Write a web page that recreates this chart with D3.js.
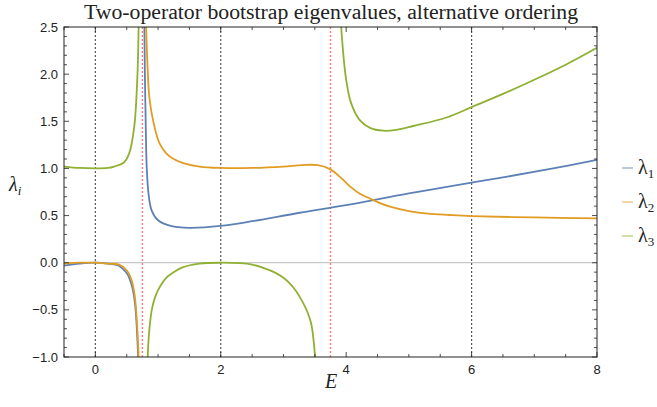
<!DOCTYPE html>
<html><head><meta charset="utf-8">
<script src="https://cdn.jsdelivr.net/npm/d3@7"></script>
<style>body{margin:0;background:#fff}</style>
</head><body>
<svg id="c" width="657" height="407"></svg>
<script>
// ---- data ----
const title = "Two-operator bootstrap eigenvalues, alternative ordering";
const xTicks = [0, 2, 4, 6, 8];
const yTicks = [-1.0, -0.5, 0.0, 0.5, 1.0, 1.5, 2.0, 2.5];
const blackMarkers = [0, 2, 6];
const redMarkers = [0.75, 3.75];
const seriesNames = ["λ1", "λ2", "λ3"];

const l1aE = [-0.5, -0.25, 0, 0.2, 0.38, 0.5, 0.58, 0.63, 0.66, 0.685, 0.71];
const l1aV = [-0.03, -0.01, 0, -0.01, -0.035, -0.11, -0.24, -0.42, -0.68, -1.05, -1.6];
const l1bE = [0.775, 0.79, 0.80, 0.82, 0.85, 0.9, 1.0, 1.2, 1.5, 2.0, 2.5, 3.26, 4.0, 5.0, 5.65, 6.5, 7.3, 8.0];
const l1bV = [3.0, 2.0, 1.6, 1.0, 0.72, 0.55, 0.45, 0.39, 0.37, 0.39, 0.44, 0.53, 0.61, 0.735, 0.81, 0.905, 1.0, 1.09];

const l2aE = [-0.5, -0.25, 0, 0.2, 0.38, 0.5, 0.58, 0.63, 0.66, 0.69, 0.71];
const l2aV = [-0.01, 0, 0, -0.01, -0.02, -0.08, -0.19, -0.36, -0.6, -1.0, -1.5];
const l2bE = [0.79, 0.81, 0.835, 0.86, 0.92, 1.02, 1.13, 1.25, 1.39, 1.66, 2.0, 2.5, 3.0, 3.3, 3.55, 3.75, 3.9, 4.06, 4.2, 4.38, 4.55, 4.7, 5.02, 5.3, 5.65, 6.0, 7.0, 8.0];
const l2bV = [3.0, 2.5, 2.04, 1.76, 1.51, 1.27, 1.16, 1.1, 1.06, 1.02, 1.005, 1.005, 1.02, 1.035, 1.035, 0.99, 0.91, 0.81, 0.74, 0.68, 0.63, 0.595, 0.545, 0.52, 0.506, 0.495, 0.48, 0.47];

const l3aE = [-0.5, -0.25, 0, 0.2, 0.3, 0.45, 0.54, 0.62, 0.67, 0.69, 0.71];
const l3aV = [1.02, 1.005, 1.0, 1.005, 1.02, 1.06, 1.16, 1.44, 1.97, 2.5, 4.5];
const l3bE = [0.81, 0.835, 0.86, 0.9, 0.95, 1.0, 1.13, 1.25, 1.39, 1.66, 2.0, 2.3, 2.5, 2.7, 2.85, 3.0, 3.1, 3.2, 3.3, 3.38, 3.44, 3.48, 3.51, 3.54];
const l3bV = [-2.2, -1.0, -0.72, -0.5, -0.37, -0.29, -0.16, -0.1, -0.05, -0.01, 0, -0.005, -0.02, -0.06, -0.1, -0.16, -0.22, -0.3, -0.41, -0.52, -0.64, -0.82, -1.05, -1.4];
const l3cE = [3.87, 3.92, 4.0, 4.08, 4.22, 4.38, 4.59, 4.8, 5.07, 5.6, 6.0, 6.5, 7.0, 7.5, 8.0];
const l3cV = [3.2, 2.5, 1.94, 1.69, 1.51, 1.43, 1.40, 1.41, 1.45, 1.54, 1.65, 1.79, 1.94, 2.1, 2.28];

const colors = ["#5E81B5", "#E19C24", "#8FB032"];
const segments = [
  {s: 0, E: l1aE, V: l1aV}, {s: 0, E: l1bE, V: l1bV},
  {s: 2, E: l3aE, V: l3aV}, {s: 2, E: l3bE, V: l3bV}, {s: 2, E: l3cE, V: l3cV},
  {s: 1, E: l2aE, V: l2aV}, {s: 1, E: l2bE, V: l2bV}
];

// ---- layout ----
const L = 64, R = 597, T = 27, B = 357;
const svg = d3.select("#c");
const x = d3.scaleLinear().domain([-0.5, 8]).range([L, R]);
const y = d3.scaleLinear().domain([-1, 2.5]).range([B, T]);

svg.append("defs").append("clipPath").attr("id", "clip")
  .append("rect").attr("x", L).attr("y", T).attr("width", R - L).attr("height", B - T);

// zero line
svg.append("line").attr("x1", L).attr("x2", R).attr("y1", y(0)).attr("y2", y(0))
  .attr("stroke", "#c8c8c8").attr("stroke-width", 1.2);

// vertical markers
blackMarkers.forEach(e => svg.append("line").attr("x1", x(e)).attr("x2", x(e)).attr("y1", T).attr("y2", B)
  .attr("stroke", "#555").attr("stroke-width", 1.2).attr("stroke-dasharray", "2,2"));
redMarkers.forEach(e => svg.append("line").attr("x1", x(e)).attr("x2", x(e)).attr("y1", T).attr("y2", B)
  .attr("stroke", "#f27c7c").attr("stroke-width", 1.4).attr("stroke-dasharray", "2,2"));

// curves
const line = d3.line().x(d => x(d[0])).y(d => y(d[1])).curve(d3.curveCatmullRom.alpha(0.5));
const g = svg.append("g").attr("clip-path", "url(#clip)");
segments.forEach(seg => {
  g.append("path").attr("d", line(seg.E.map((e, i) => [e, seg.V[i]])))
    .attr("fill", "none").attr("stroke", colors[seg.s]).attr("stroke-width", 1.8);
});

// frame
svg.append("rect").attr("x", L).attr("y", T).attr("width", R - L).attr("height", B - T)
  .attr("fill", "none").attr("stroke", "#222").attr("stroke-width", 1);

// ticks
const xMinor = d3.range(-0.5, 8.001, 0.5);
const yMinor = d3.range(-1, 2.5001, 0.1);
const tk = svg.append("g").attr("stroke", "#222").attr("stroke-width", 0.8);
xMinor.forEach(v => {
  const major = Math.abs(v / 2 - Math.round(v / 2)) < 1e-6;
  const len = major ? 5 : 3;
  tk.append("line").attr("x1", x(v)).attr("x2", x(v)).attr("y1", B).attr("y2", B - len);
  tk.append("line").attr("x1", x(v)).attr("x2", x(v)).attr("y1", T).attr("y2", T + len);
});
yMinor.forEach(v => {
  const major = Math.abs(v * 2 - Math.round(v * 2)) < 1e-6;
  const len = major ? 5 : 3;
  tk.append("line").attr("x1", L).attr("x2", L + len).attr("y1", y(v)).attr("y2", y(v));
  tk.append("line").attr("x1", R).attr("x2", R - len).attr("y1", y(v)).attr("y2", y(v));
});

// tick labels
const fmtY = d3.format(".1f");
yTicks.forEach(v => svg.append("text").attr("x", L - 6).attr("y", y(v) + 4.5)
  .attr("text-anchor", "end").attr("font-family", "Liberation Sans, Arial, sans-serif")
  .attr("font-size", 13).attr("fill", "#222").text(fmtY(v).replace("-", "\u2212")));
xTicks.forEach(v => svg.append("text").attr("x", x(v)).attr("y", B + 17)
  .attr("text-anchor", "middle").attr("font-family", "Liberation Sans, Arial, sans-serif")
  .attr("font-size", 13).attr("fill", "#222").text(v));

// axis labels
svg.append("text").attr("x", 331).attr("y", 388).attr("text-anchor", "middle")
  .attr("font-family", "Liberation Serif, serif").attr("font-style", "italic")
  .attr("font-size", 20).attr("fill", "#222").text("E");
const yl = svg.append("text").attr("x", 9).attr("y", 191)
  .attr("font-family", "Liberation Serif, serif").attr("font-style", "italic")
  .attr("font-size", 20).attr("fill", "#222");
yl.append("tspan").text("λ");
yl.append("tspan").attr("font-size", 13).attr("dy", 4).text("i");

// title
svg.append("text").attr("x", 331).attr("y", 19).attr("text-anchor", "middle")
  .attr("font-family", "Liberation Serif, serif").attr("font-size", 20).attr("fill", "#222")
  .attr("textLength", 494).attr("lengthAdjust", "spacingAndGlyphs")
  .text(title);

// legend
const legY = [168, 202, 236];
seriesNames.forEach((n, i) => {
  svg.append("line").attr("x1", 622).attr("x2", 633).attr("y1", legY[i]).attr("y2", legY[i])
    .attr("stroke", colors[i]).attr("stroke-opacity", 0.55).attr("stroke-width", 1.5);
  const t = svg.append("text").attr("x", 638).attr("y", legY[i] + 6)
    .attr("font-family", "Liberation Serif, serif").attr("font-size", 20).attr("fill", "#222");
  t.append("tspan").text(n[0]);
  t.append("tspan").attr("font-size", 13).attr("dy", 4).attr("font-style", "normal").text(n.slice(1));
});
</script>
</body></html>
